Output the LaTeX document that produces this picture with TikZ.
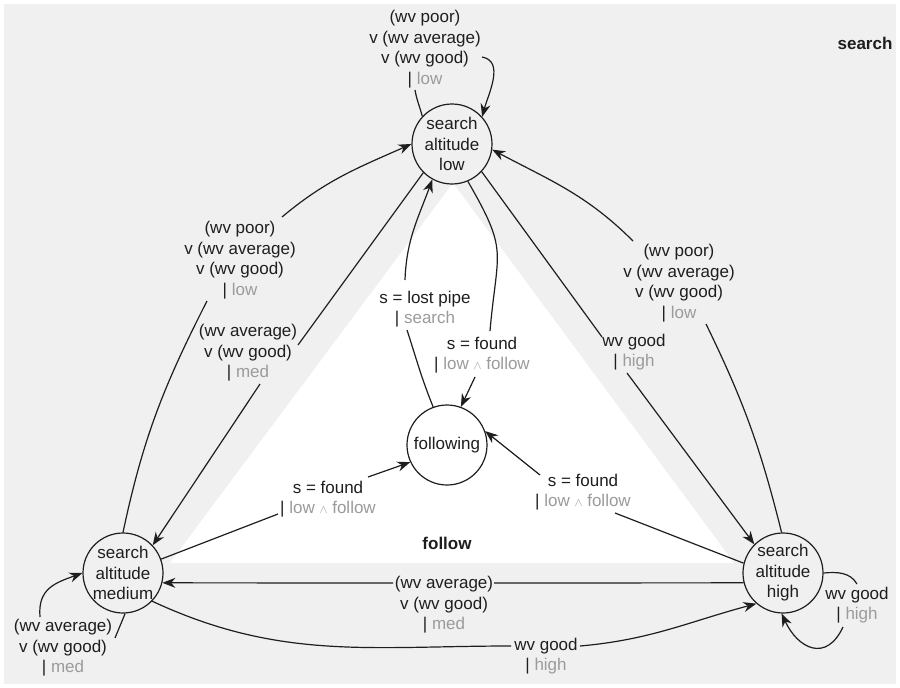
\documentclass[tikz,border=0pt]{standalone}
\usepackage{fontspec}
\setmainfont{Liberation Sans}
\usetikzlibrary{arrows.meta}
\definecolor{bggray}{RGB}{239,240,239}
\definecolor{lbl}{RGB}{155,155,155}
\definecolor{ink}{RGB}{30,30,30}
\newcommand{\gr}[1]{\textcolor{lbl}{#1}}
\newcommand{\mybar}{\textbar{} }
\newcommand{\andw}{\ensuremath{\scriptstyle\wedge}}
\begin{document}
\begin{tikzpicture}[x=1pt,y=1pt,
  font=\fontsize{17}{20.5}\selectfont,
  state/.style={circle,draw=ink,line width=1.2pt,minimum size=80pt,inner sep=0pt},
  lab/.style={align=center,inner sep=2pt,text=ink},
  edge/.style={draw=ink,line width=1.2pt},
  arr/.style={edge,-{Stealth[length=13pt,width=10pt]}}]
\fill[bggray] (4,-4) rectangle (896,-684);
\useasboundingbox (0,0) rectangle (900,-688);
\fill[white] (453,-183) -- (170,-563) -- (734,-563) -- cycle;

% states
\node[state] (low) at (452,-144) {};
\node[lab] (lowt) at (low) {search\\altitude\\low};
\node[state] (med) at (123,-573) {};
\node[lab] (medt) at (med) {search\\altitude\\medium};
\node[state] (high) at (783,-573) {};
\node[lab] (hight) at (high) {search\\altitude\\high};
\node[state] (fol) at (447,-445) {};
\node[lab] (folt) at (fol) {following};

% region titles
\node[lab,font=\fontsize{17}{20.5}\selectfont\bfseries] (srch) at (865,-43) {search};
\node[lab,font=\fontsize{17}{20.5}\selectfont\bfseries] (flw) at (447,-543) {follow};

% labels
\node[lab] (L1) at (425,-49) {(wv poor)\\v (wv average)\\v (wv good)\\\mybar\gr{low}};
\node[lab] (L2) at (240,-260) {(wv poor)\\v (wv average)\\v (wv good)\\\mybar\gr{low}};
\node[lab] (L3) at (248,-353) {(wv average)\\v (wv good)\\\mybar\gr{med}};
\node[lab] (L4) at (679,-283) {(wv poor)\\v (wv average)\\v (wv good)\\\mybar\gr{low}};
\node[lab] (L5) at (634,-352) {wv good\\\mybar\gr{high}};
\node[lab] (L6) at (425,-309) {s = lost pipe\\\mybar\gr{search}};
\node[lab] (L7) at (482,-355) {s = found\\\mybar\gr{low \andw{} follow}};
\node[lab] (L8) at (328,-499) {s = found\\\mybar\gr{low \andw{} follow}};
\node[lab] (L9) at (583,-492) {s = found\\\mybar\gr{low \andw{} follow}};
\node[lab] (L10) at (444,-605) {(wv average)\\v (wv good)\\\mybar\gr{med}};
\node[lab] (L11) at (546,-656) {wv good\\\mybar\gr{high}};
\node[lab] (L12) at (63,-648) {(wv average)\\v (wv good)\\\mybar\gr{med}};
\node[lab] (L13) at (857,-605) {wv good\\\mybar\gr{high}};

% low self loop
\draw[edge] (low.137) to[out=105,in=-80] ([shift={(-10,-41)}]L1.center);
\draw[arr] ([shift={(57,-8)}]L1.center) to[out=-10,in=75] (low.42);
% med -> low
\draw[edge] (med.90) to[out=78,in=-117] ([shift={(-33,-41)}]L2.center);
\draw[arr] ([shift={(42,43)}]L2.center) to[out=40,in=204] (low.180);
% low -> med
\draw[edge] (low.225) -- ([shift={(50,8)}]L3.center);
\draw[arr] ([shift={(12,-31)}]L3.center) -- (med.43);
% high -> low
\draw[edge] (high.92) to[out=104,in=-64] ([shift={(27,-41)}]L4.center);
\draw[arr] ([shift={(-46,42)}]L4.center) to[out=135,in=-28] (low.-8);
% low -> high
\draw[edge] (low.-43) -- ([shift={(-32,15)}]L5.center);
\draw[arr] ([shift={(-7,-21)}]L5.center) -- (high.135);
% following -> low
\draw[edge] (fol.110) to[out=112,in=-72] ([shift={(-18,-21)}]L6.center);
\draw[arr] ([shift={(-20,29)}]L6.center) to[out=88,in=250] (low.241);
% low -> following
\draw[edge] (low.-67) to[out=-60,in=85,looseness=1.4] ([shift={(8,24)}]L7.center);
\draw[arr] ([shift={(-7,-22)}]L7.center) -- (fol.70);
% med -> following
\draw[edge] (med.20) -- ([shift={(-50,-15)}]L8.center);
\draw[arr] ([shift={(40,22)}]L8.center) -- (fol.205);
% high -> following
\draw[edge] (high.166) -- ([shift={(32,-21)}]L9.center);
\draw[arr] ([shift={(-43,17)}]L9.center) -- (fol.20);
% high -> med
\draw[edge] (high.194) -- ([shift={(50,22)}]L10.center);
\draw[arr] ([shift={(-51,22)}]L10.center) -- (med.-14);
% med -> high
\draw[edge] (med.-44) to[out=-25,in=180] ([shift={(-35,10)}]L11.center);
\draw[arr] ([shift={(34,10)}]L11.center) to[out=5,in=195] (high.229);
% med self loop
\draw[edge] (med.-87) -- ([shift={(52,10)}]L12.center);
\draw[arr] ([shift={(-23,31)}]L12.center) to[out=95,in=200,looseness=1.2] (med.180);
% high self loop
\draw[edge] (high.0) to[out=5,in=120] ([shift={(0,21)}]L13.center);
\draw[arr] ([shift={(-14,-22)}]L13.center) to[out=-115,in=-65,looseness=1.6] (high.-92);
\end{tikzpicture}
\end{document}
